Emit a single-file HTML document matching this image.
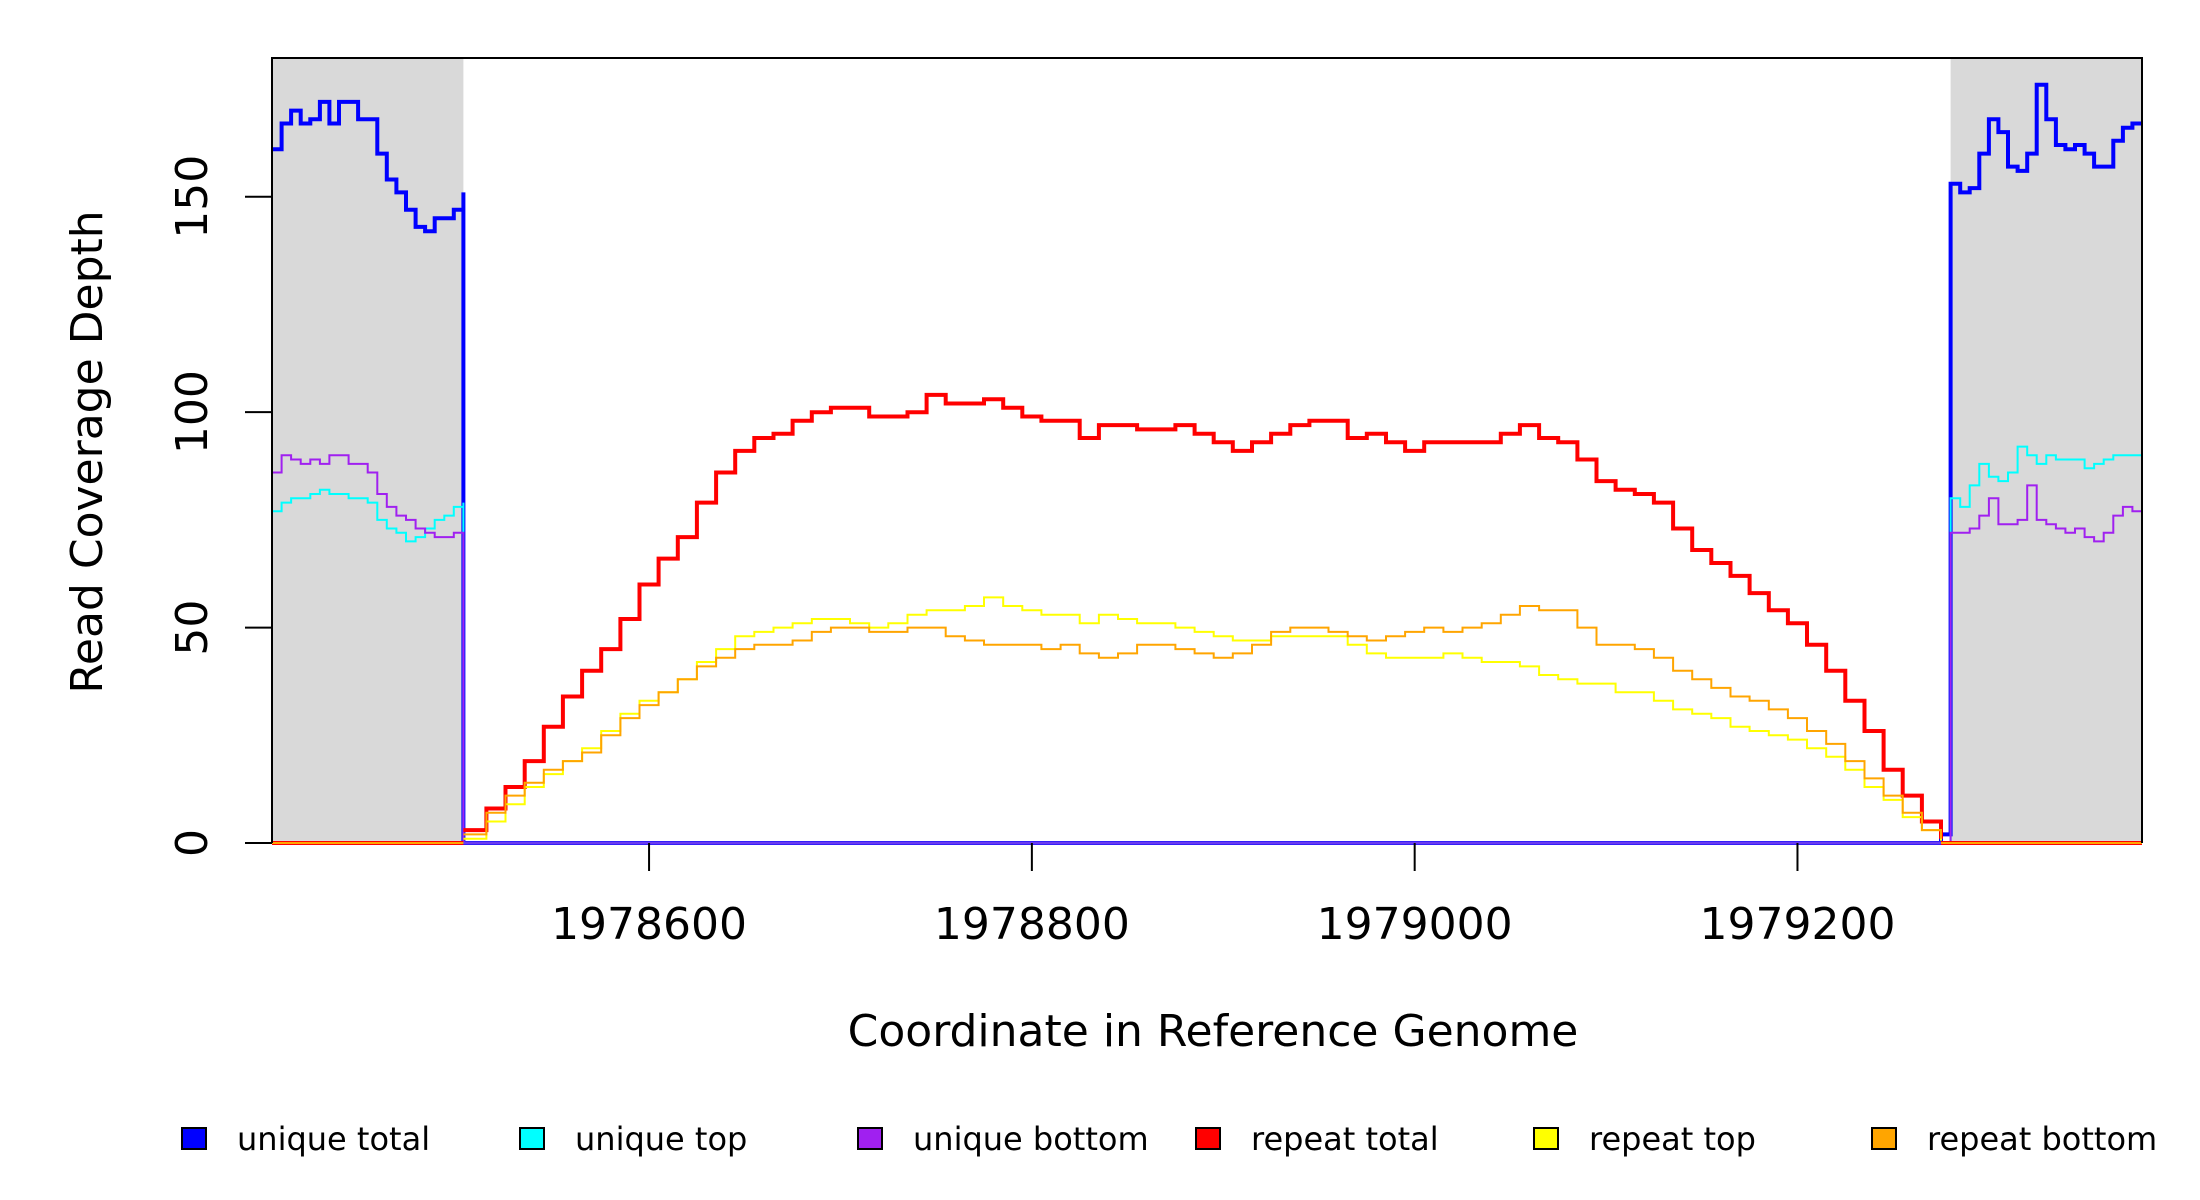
<!DOCTYPE html>
<html><head><meta charset="utf-8"><style>
html,body{margin:0;padding:0;background:#fff;}
svg{display:block;font-family:"DejaVu Sans","Liberation Sans",sans-serif;}
</style></head><body>
<svg id="chart" width="2200" height="1200" viewBox="0 0 2200 1200" xmlns="http://www.w3.org/2000/svg">
<g id="plot"></g>
<g id="axes"></g>
<g id="legend"></g>
</svg>
<script>
// ---- data ----
const xTicks = [1978600, 1978800, 1979000, 1979200];
const yTicks = [0, 50, 100, 150];
const grayRegions = [[1978403, 1978503], [1979280, 1979380]];

const uniqLeftX = [1978403,1978408,1978413,1978418,1978423,1978428,1978433,1978438,1978443,1978448,1978453,1978458,1978463,1978468,1978473,1978478,1978483,1978488,1978493,1978498,1978503];
const uniqTotalLeft = [161,167,170,167,168,172,167,172,172,168,168,160,154,151,147,143,142,145,145,147,151];
const uniqTopLeft = [77,79,80,80,81,82,81,81,80,80,79,75,73,72,70,71,73,75,76,78,79];
const uniqBottomLeft = [86,90,89,88,89,88,90,90,88,88,86,81,78,76,75,73,72,71,71,72,72];

const uniqMidX = [1978503, 1979270, 1979275];
const uniqTotalMid = [0, 0, 2];
const uniqTopMid = [0, 0, 0];
const uniqBottomMid = [0, 0, 0];

const uniqRightX = [1979280,1979285,1979290,1979295,1979300,1979305,1979310,1979315,1979320,1979325,1979330,1979335,1979340,1979345,1979350,1979355,1979360,1979365,1979370,1979375,1979380];
const uniqTotalRight = [153,151,152,160,168,165,157,156,160,176,168,162,161,162,160,157,157,163,166,167,167];
const uniqTopRight = [80,78,83,88,85,84,86,92,90,88,90,89,89,89,87,88,89,90,90,90,90];
const uniqBottomRight = [72,72,73,76,80,74,74,75,83,75,74,73,72,73,71,70,72,76,78,77,77];

const repX = [1978503,1978515,1978525,1978535,1978545,1978555,1978565,1978575,1978585,1978595,1978605,1978615,1978625,1978635,1978645,1978655,1978665,1978675,1978685,1978695,1978705,1978715,1978725,1978735,1978745,1978755,1978765,1978775,1978785,1978795,1978805,1978815,1978825,1978835,1978845,1978855,1978865,1978875,1978885,1978895,1978905,1978915,1978925,1978935,1978945,1978955,1978965,1978975,1978985,1978995,1979005,1979015,1979025,1979035,1979045,1979055,1979065,1979075,1979085,1979095,1979105,1979115,1979125,1979135,1979145,1979155,1979165,1979175,1979185,1979195,1979205,1979215,1979225,1979235,1979245,1979255,1979265,1979275];
const repTotal = [3,8,13,19,27,34,40,45,52,60,66,71,79,86,91,94,95,98,100,101,101,99,99,100,104,102,102,103,101,99,98,98,94,97,97,96,96,97,95,93,91,93,95,97,98,98,94,95,93,91,93,93,93,93,95,97,94,93,89,84,82,81,79,73,68,65,62,58,54,51,46,40,33,26,17,11,5,1];
const repTop = [1,5,9,13,16,19,22,26,30,33,35,38,42,45,48,49,50,51,52,52,51,50,51,53,54,54,55,57,55,54,53,53,51,53,52,51,51,50,49,48,47,47,48,48,48,48,46,44,43,43,43,44,43,42,42,41,39,38,37,37,35,35,33,31,30,29,27,26,25,24,22,20,17,13,10,6,3,0.5];
const repBottom = [2,7,11,14,17,19,21,25,29,32,35,38,41,43,45,46,46,47,49,50,50,49,49,50,50,48,47,46,46,46,45,46,44,43,44,46,46,45,44,43,44,46,49,50,50,49,48,47,48,49,50,49,50,51,53,55,54,54,50,46,46,45,43,40,38,36,34,33,31,29,26,23,19,15,11,7,3,1];

// ---- scales ----
const X0 = 1978403, X1 = 1979380, PL = 272, PR = 2142;
const Y0 = 0, Y1 = 182.2, PB = 843, PT = 58;
const sx = v => PL + (v - X0) / (X1 - X0) * (PR - PL);
const sy = v => PB - (v - Y0) / (Y1 - Y0) * (PB - PT);
const NS = 'http://www.w3.org/2000/svg';
function mk(tag, attrs, parent) {
  const e = document.createElementNS(NS, tag);
  for (const k in attrs) e.setAttribute(k, attrs[k]);
  parent.appendChild(e);
  return e;
}
const plot = document.getElementById('plot');
const axes = document.getElementById('axes');
const legend = document.getElementById('legend');

grayRegions.forEach((r, i) => {
  const rect = mk('rect', {x: sx(r[0]), y: PT, width: sx(r[1]) - sx(r[0]), height: PB - PT, fill: '#d9d9d9'}, plot);
  
  
});

function stepPath(xs, ys) {
  let d = '';
  for (let i = 0; i < xs.length; i++) {
    const px = sx(xs[i]).toFixed(1), py = sy(ys[i]).toFixed(1);
    if (i === 0) d += 'M' + px + ' ' + py;
    else d += ' H' + px + ' V' + py;
  }
  return d;
}
function series(name, color, width, segs) {
  let d = '';
  segs.forEach(s => { d += (d ? ' ' : '') + stepPath(s[0], s[1]); });
  const p = mk('path', {d: d, fill: 'none', stroke: color, 'stroke-width': width, 'stroke-linejoin': 'miter'}, plot);
  
  
}
const repZeroLeftX = [1978403, 1978503], repZeroLeft = [0, 0];
const repZeroRightX = [1979275, 1979380], repZeroRight = [0, 0];

series('series-unique-total', '#0000ff', 4, [[uniqLeftX.concat(uniqMidX, uniqRightX), uniqTotalLeft.concat(uniqTotalMid, uniqTotalRight)]]);
series('series-unique-top', '#00ffff', 2, [[uniqLeftX.concat(uniqMidX, uniqRightX), uniqTopLeft.concat(uniqTopMid, uniqTopRight)]]);
series('series-unique-bottom', '#a020f0', 2, [[uniqLeftX.concat(uniqMidX, uniqRightX), uniqBottomLeft.concat(uniqBottomMid, uniqBottomRight)]]);
series('series-repeat-total', '#ff0000', 4, [[repZeroLeftX, repZeroLeft], [repX, repTotal], [repZeroRightX, repZeroRight]]);
series('series-repeat-top', '#ffff00', 2, [[repZeroLeftX, repZeroLeft], [repX, repTop], [repZeroRightX, repZeroRight]]);
series('series-repeat-bottom', '#ffa500', 2, [[repZeroLeftX, repZeroLeft], [repX, repBottom], [repZeroRightX, repZeroRight]]);
const zl = mk('line', {x1: sx(1978503), x2: sx(1979275), y1: PB, y2: PB, stroke: '#6a3cf0', 'stroke-width': 3}, plot);



const box = mk('path', {d: `M${PL} ${PB} V${PT} H${PR} V${PB}`, fill: 'none', stroke: '#000', 'stroke-width': 2}, axes);



xTicks.forEach(v => {
  const t = mk('line', {x1: sx(v), x2: sx(v), y1: PB, y2: 871, stroke: '#000', 'stroke-width': 2}, axes);
  
  
  const l = mk('text', {x: sx(v), y: 939, 'font-size': 44, 'text-anchor': 'middle', fill: '#000'}, axes);
  l.textContent = v;
  
  
});
yTicks.forEach(v => {
  const t = mk('line', {x1: 245, x2: PL, y1: sy(v), y2: sy(v), stroke: '#000', 'stroke-width': 2}, axes);
  
  
  const l = mk('text', {x: 0, y: 0, 'font-size': 44, 'text-anchor': 'middle', fill: '#000', transform: `translate(207,${sy(v)}) rotate(-90)`}, axes);
  l.textContent = v;
  
  
});
const xt = mk('text', {x: 1213, y: 1046, 'font-size': 44, 'text-anchor': 'middle', fill: '#000'}, axes);
xt.textContent = 'Coordinate in Reference Genome';


const yt = mk('text', {x: 0, y: 0, 'font-size': 44, 'text-anchor': 'middle', fill: '#000', transform: 'translate(102,452) rotate(-90)'}, axes);
yt.textContent = 'Read Coverage Depth';



const legLabels = ['unique total', 'unique top', 'unique bottom', 'repeat total', 'repeat top', 'repeat bottom'];
const legColors = ['#0000ff', '#00ffff', '#a020f0', '#ff0000', '#ffff00', '#ffa500'];
const legX = [182, 520, 858, 1196, 1534, 1872];
legLabels.forEach((lab, i) => {
  const g = mk('g', {}, legend);
  
  
  const r = mk('rect', {x: legX[i], y: 1128, width: 24, height: 21, fill: legColors[i], stroke: '#000', 'stroke-width': 2}, g);
  
  
  const t = mk('text', {x: legX[i] + 55, y: 1150, 'font-size': 32, fill: '#000'}, g);
  t.textContent = lab;
  
  
});
</script>
</body></html>
